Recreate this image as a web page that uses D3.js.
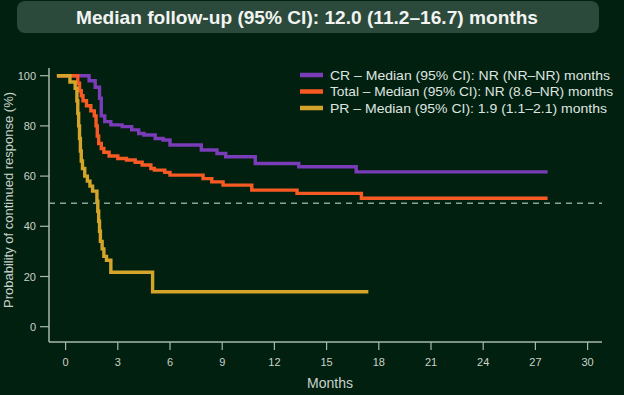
<!DOCTYPE html>
<html lang="en">
<head>
<meta charset="UTF-8">
<title>Continued response</title>
<style>
  body { margin: 0; background: #02200f; }
  svg { display: block; font-family: "Liberation Sans", Arial, sans-serif; }
</style>
</head>
<body>
<div id="chart"></div>
<script src="https://d3js.org/d3.v7.min.js"></script>
<script>
// Kaplan-Meier step data (months, % still in response)
var crTimes  = [-0.5, 1.35, 1.7, 1.95, 2.05, 2.25, 2.6, 3.25, 3.8, 4.2, 4.5, 5.15, 5.6, 6.0, 7.8, 8.7, 9.2, 10.9, 13.4, 16.7, 27.7];
var crSurv   = [100, 98, 95.4, 91, 84, 81.7, 80.4, 79.7, 78.4, 77, 76.4, 75, 74.4, 72.4, 70.4, 69, 67.7, 65, 63.7, 61.7, 61.7];

var totTimes = [-0.5, 0.7, 0.8, 0.9, 1.0, 1.2, 1.45, 1.65, 1.75, 1.82, 1.9, 2.05, 2.2, 2.5, 3.0, 3.5, 4.0, 4.4, 4.9, 5.1, 5.7, 6.0, 7.9, 8.4, 9.05, 10.7, 13.3, 17.0, 27.7];
var totSurv  = [100, 97, 94, 92, 90, 88, 86, 84, 80, 76, 73, 71, 69.5, 68, 67, 66.4, 65.5, 64.4, 63, 62.4, 61.5, 60.4, 59, 57.7, 56.4, 54.4, 53.1, 51.2, 51.2];

var prTimes  = [-0.5, 0.25, 0.55, 0.65, 0.7, 0.75, 0.8, 0.85, 0.9, 0.97, 1.1, 1.25, 1.4, 1.55, 1.8, 1.85, 1.9, 1.95, 2.0, 2.1, 2.2, 2.35, 2.6, 5.0, 17.4];
var prSurv   = [100, 97.5, 95, 90, 85, 80, 75, 70, 66, 63, 60, 58, 56, 54, 50, 46, 42, 38, 34, 31, 28, 26.5, 21.7, 13.9, 13.9];

var seriesNames  = ["CR", "Total", "PR"];
var legendLabels = ["CR \u2013 Median (95% CI):  NR (NR\u2013NR)  months",
                    "Total \u2013 Median (95% CI): NR (8.6\u2013NR) months",
                    "PR  \u2013 Median (95% CI): 1.9 (1.1\u20132.1) months"];
var xTicks = [0, 3, 6, 9, 12, 15, 18, 21, 24, 27, 30];
var yTicks = [0, 20, 40, 60, 80, 100];
var medianLine = 50;

var colors = { CR: "#7a3cb8", Total: "#f85a24", PR: "#d4a52a" };
var axisColor = "#a9b8ad";
var textColor = "#c9d2cb";

var W = 624, H = 395;
var svg = d3.select("#chart").append("svg")
    .attr("width", W).attr("height", H);

svg.append("rect").attr("width", W).attr("height", H).attr("fill", "#02200f");

// title banner
svg.append("rect")
    .attr("x", 17).attr("y", 1).attr("width", 582).attr("height", 32)
    .attr("rx", 8).attr("fill", "#2c4a3b");
svg.append("text")
    .attr("x", 307).attr("y", 24)
    .attr("text-anchor", "middle")
    .attr("fill", "#f2f4f2")
    .attr("font-size", 19).attr("font-weight", "bold")
    .attr("textLength", 462).attr("lengthAdjust", "spacingAndGlyphs")
    .text("Median follow-up (95% CI): 12.0 (11.2\u201316.7) months");

// scales
var x = d3.scaleLinear().domain([0, 30]).range([65.6, 587.6]);
var y = d3.scaleLinear().domain([0, 100]).range([326.7, 75.7]);

// axes lines
svg.append("line").attr("x1", 49).attr("x2", 49).attr("y1", 68).attr("y2", 342)
    .attr("stroke", axisColor).attr("stroke-width", 1.5);
svg.append("line").attr("x1", 49).attr("x2", 602).attr("y1", 342).attr("y2", 342)
    .attr("stroke", axisColor).attr("stroke-width", 1.5);

// y ticks
var yt = svg.append("g");
yt.selectAll("line").data(yTicks).enter().append("line")
    .attr("x1", 40).attr("x2", 49)
    .attr("y1", function (d) { return y(d); }).attr("y2", function (d) { return y(d); })
    .attr("stroke", axisColor).attr("stroke-width", 1.2);
yt.selectAll("text").data(yTicks).enter().append("text")
    .attr("x", 36).attr("y", function (d) { return y(d) + 4; })
    .attr("text-anchor", "end").attr("font-size", 11).attr("fill", textColor)
    .text(function (d) { return d; });

// x ticks
var xt = svg.append("g");
xt.selectAll("line").data(xTicks).enter().append("line")
    .attr("x1", function (d) { return x(d); }).attr("x2", function (d) { return x(d); })
    .attr("y1", 342).attr("y2", 350)
    .attr("stroke", axisColor).attr("stroke-width", 1.2);
xt.selectAll("text").data(xTicks).enter().append("text")
    .attr("x", function (d) { return x(d); }).attr("y", 366)
    .attr("text-anchor", "middle").attr("font-size", 11).attr("fill", textColor)
    .text(function (d) { return d; });

// axis titles
svg.append("text")
    .attr("x", 330).attr("y", 388)
    .attr("text-anchor", "middle").attr("font-size", 14).attr("fill", textColor)
    .text("Months");
svg.append("text")
    .attr("transform", "translate(13,200)rotate(-90)")
    .attr("text-anchor", "middle").attr("font-size", 13).attr("fill", textColor)
    .text("Probability of continued response (%)");

// median reference line
svg.append("line")
    .attr("x1", 49).attr("x2", 602)
    .attr("y1", y(medianLine) + 2).attr("y2", y(medianLine) + 2)
    .attr("stroke", "#8aa596").attr("stroke-width", 1.6)
    .attr("stroke-dasharray", "6,5");

// KM curves
var line = d3.line()
    .x(function (d) { return x(d[0]); })
    .y(function (d) { return y(d[1]); })
    .curve(d3.curveStepAfter);

var curves = [
    { name: "CR", t: crTimes, s: crSurv },
    { name: "Total", t: totTimes, s: totSurv },
    { name: "PR", t: prTimes, s: prSurv }
];
curves.forEach(function (c) {
    var pts = c.t.map(function (t, i) { return [t, c.s[i]]; });
    svg.append("path")
        .datum(pts)
        .attr("d", line)
        .attr("fill", "none")
        .attr("stroke", colors[c.name])
        .attr("stroke-width", 3.4);
});

// legend
var legendY = [75, 91.5, 108];
var legendLen = [280, 283, 277];
var lg = svg.append("g");
seriesNames.forEach(function (n, i) {
    lg.append("line")
        .attr("x1", 300).attr("x2", 323)
        .attr("y1", legendY[i]).attr("y2", legendY[i])
        .attr("stroke", colors[n]).attr("stroke-width", 4.5);
    lg.append("text")
        .attr("x", 330).attr("y", legendY[i] + 4.5)
        .attr("font-size", 13).attr("fill", "#dfe5e0")
        .attr("textLength", legendLen[i]).attr("lengthAdjust", "spacingAndGlyphs")
        .text(legendLabels[i]);
});
</script>
</body>
</html>
